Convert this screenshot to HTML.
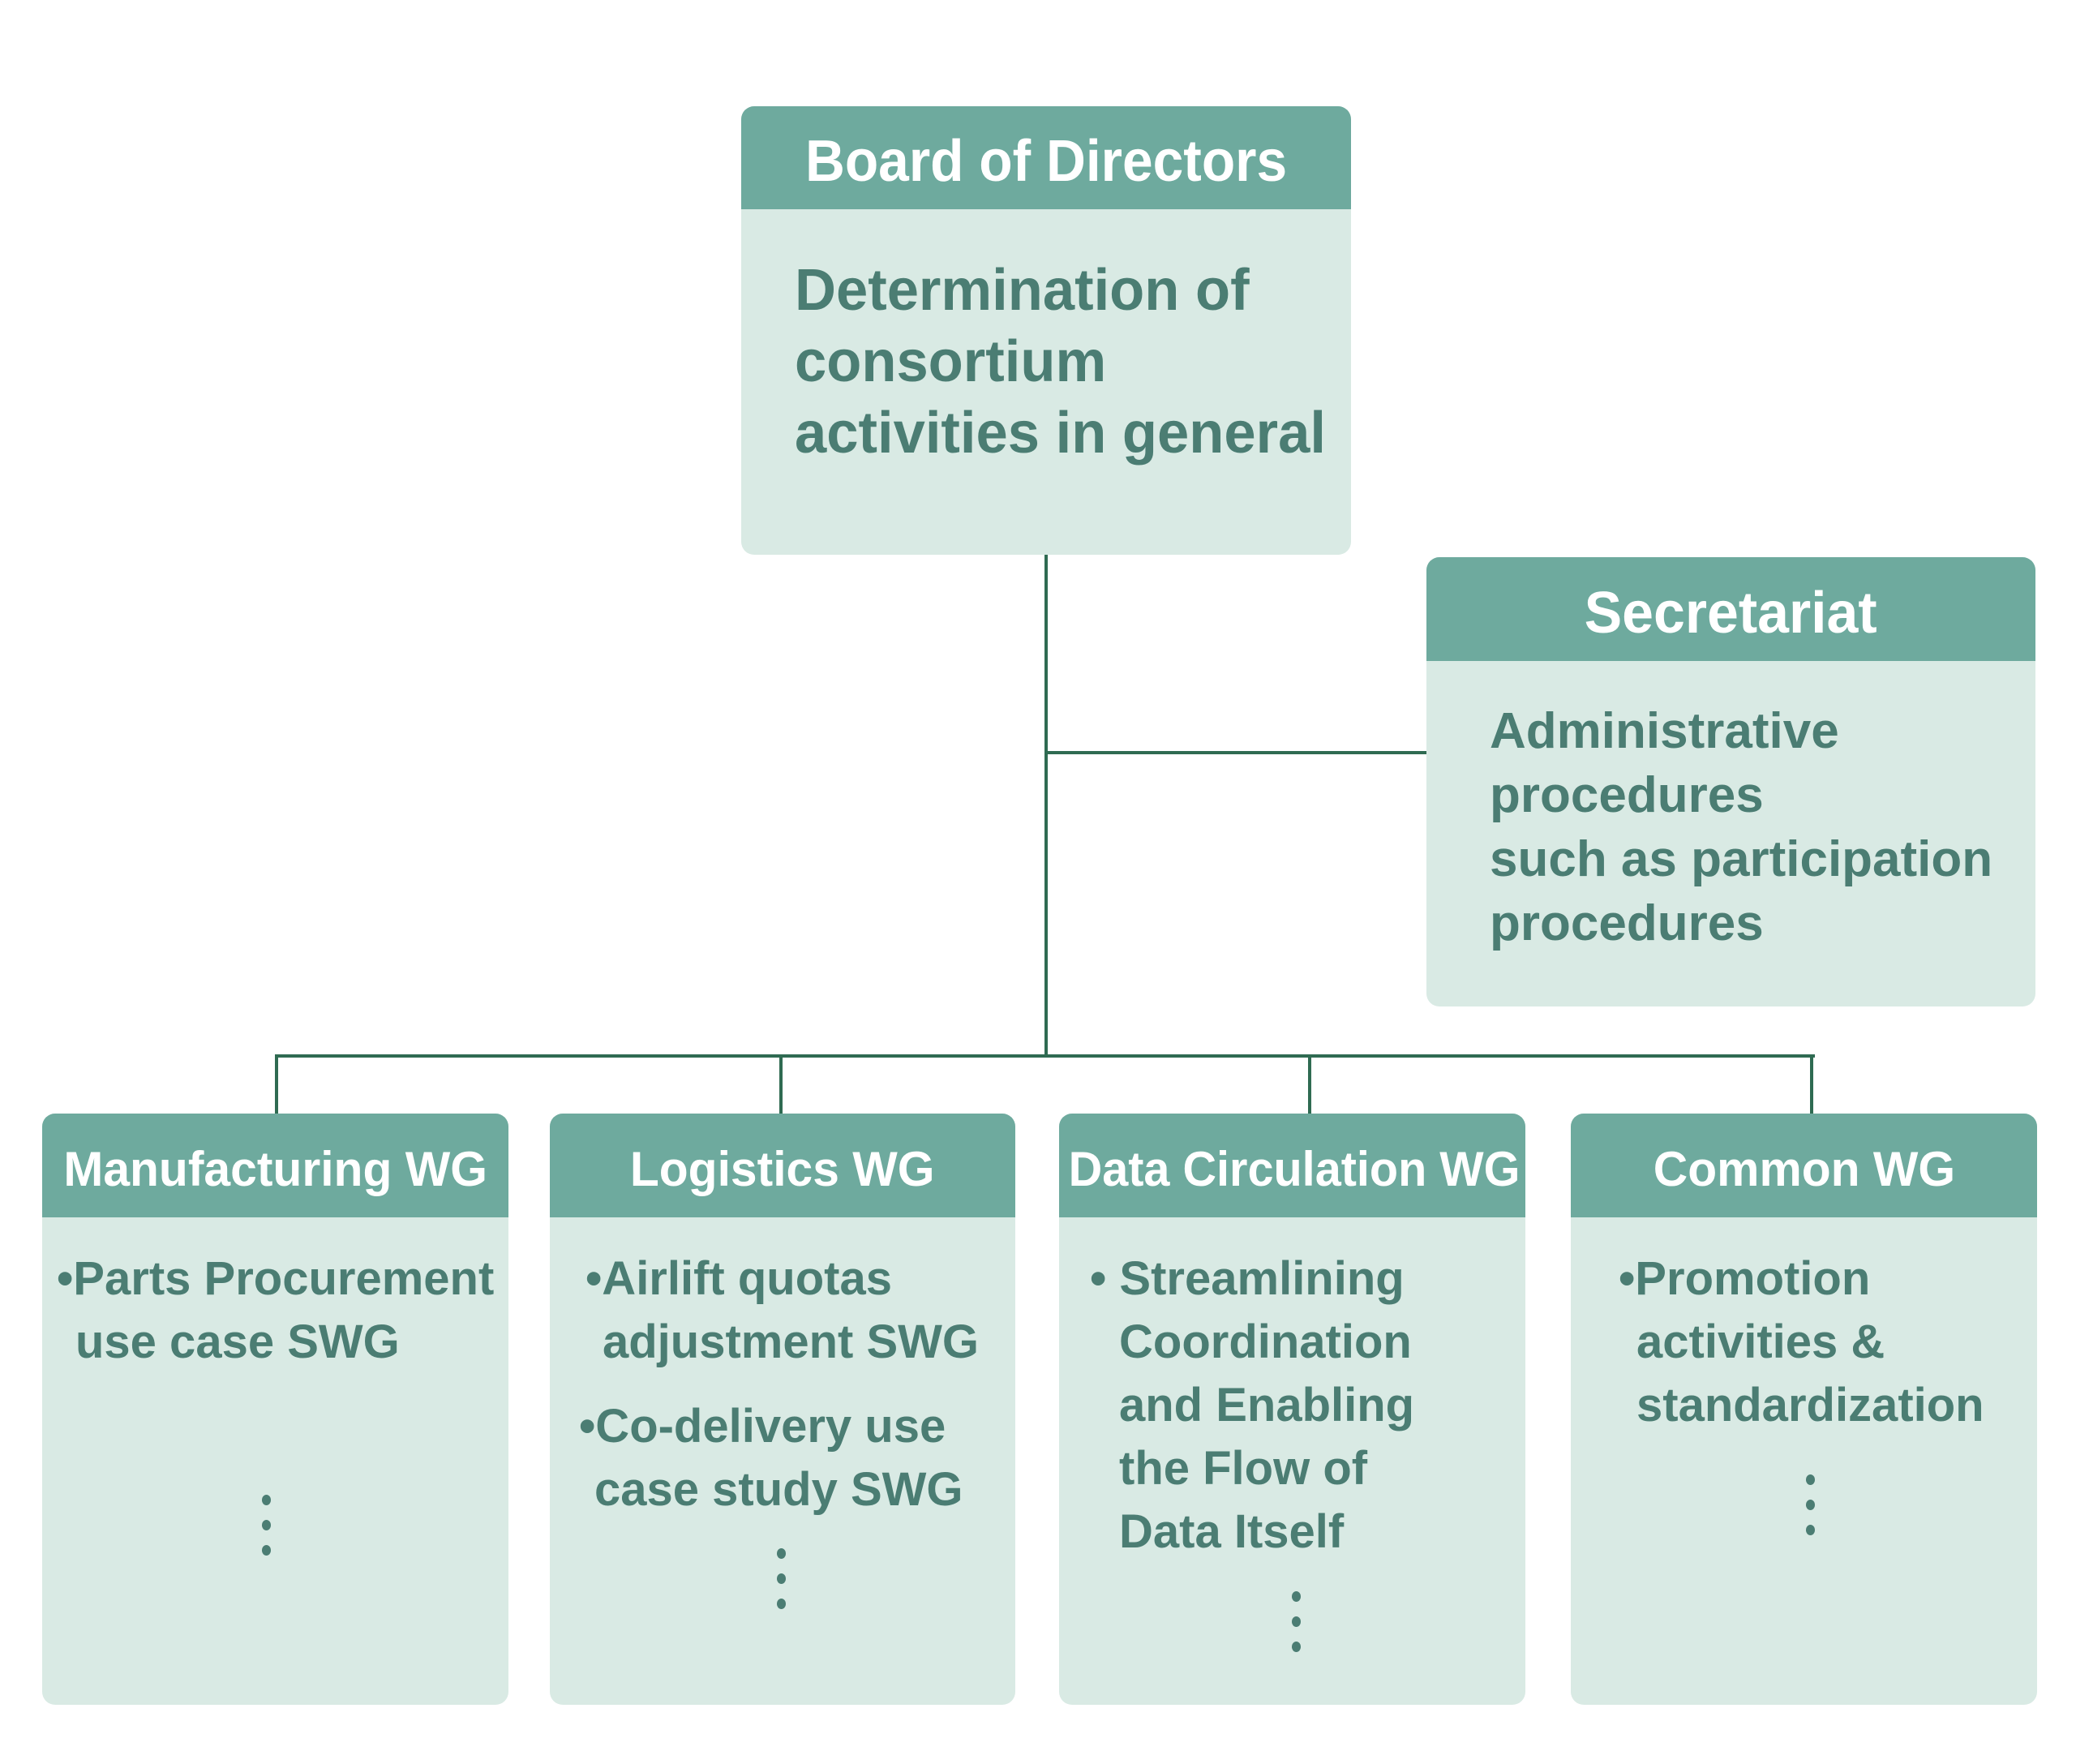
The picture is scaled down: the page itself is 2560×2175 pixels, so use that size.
<!DOCTYPE html>
<html><head><meta charset="utf-8"><style>
*{margin:0;padding:0;box-sizing:border-box}
body{width:2560px;height:2175px;background:#fff;position:relative;overflow:hidden;font-family:"Liberation Sans",sans-serif;font-weight:bold;color:#4b7d73}
.box{position:absolute;background:#d9eae4;border-radius:16px;overflow:hidden}
.hd{position:absolute;left:0;right:0;top:0;background:#6eaa9e;color:#fff;text-align:center;white-space:nowrap}
.hd span{display:inline-block;position:relative;top:5px}
.t{position:absolute;white-space:nowrap;transform-origin:0 0}
.ln{position:absolute;background:#2f6b52}
.dots{position:absolute;width:12px}
.dots i{display:block;width:11px;height:13px;border-radius:50%;background:#4b7d73;margin-bottom:18px}
.w{font-size:58px;line-height:78px;transform:scaleX(1.0)}
</style></head><body>
<div class="ln" style="left:1288px;top:684px;width:4px;height:620px"></div>
<div class="ln" style="left:1290px;top:926px;width:470px;height:4px"></div>
<div class="ln" style="left:339px;top:1300px;width:1899px;height:4px"></div>
<div class="ln" style="left:339px;top:1300px;width:4px;height:74px"></div>
<div class="ln" style="left:961px;top:1300px;width:4px;height:74px"></div>
<div class="ln" style="left:1613px;top:1300px;width:4px;height:74px"></div>
<div class="ln" style="left:2232px;top:1300px;width:4px;height:74px"></div>

<div class="box" style="left:914px;top:131px;width:752px;height:553px">
 <div class="hd" style="height:127px;font-size:72px;line-height:127px"><span style="transform:scaleX(0.94)">Board of Directors</span></div>
 <div class="t" style="left:66px;top:183px;font-size:72px;line-height:88px;transform:scaleX(0.98)">Determination of<br>consortium<br>activities in general</div>
</div>

<div class="box" style="left:1759px;top:687px;width:751px;height:554px">
 <div class="hd" style="height:128px;font-size:72px;line-height:128px"><span style="transform:scaleX(0.97)">Secretariat</span></div>
 <div class="t" style="left:78px;top:175px;font-size:62px;line-height:79px;transform:scaleX(1.0)">Administrative<br>procedures<br>such as participation<br>procedures</div>
</div>

<div class="box" style="left:52px;top:1373px;width:575px;height:729px">
 <div class="hd" style="height:128px;font-size:60px;line-height:128px"><span style="transform:scaleX(0.98)">Manufacturing WG</span></div>
 <div class="t w" style="left:18px;top:165px">•Parts Procurement</div>
 <div class="t w" style="left:41px;top:243px">use case SWG</div>
 <div class="dots" style="left:271px;top:470px"><i></i><i></i><i></i></div>
</div>

<div class="box" style="left:678px;top:1373px;width:574px;height:729px">
 <div class="hd" style="height:128px;font-size:60px;line-height:128px"><span style="transform:scaleX(0.98)">Logistics WG</span></div>
 <div class="t w" style="left:44px;top:165px">•Airlift quotas</div>
 <div class="t w" style="left:65px;top:243px">adjustment SWG</div>
 <div class="t w" style="left:36px;top:347px">•Co-delivery use</div>
 <div class="t w" style="left:55px;top:425px">case study SWG</div>
 <div class="dots" style="left:280px;top:536px"><i></i><i></i><i></i></div>
</div>

<div class="box" style="left:1306px;top:1373px;width:575px;height:729px">
 <div class="hd" style="height:128px;font-size:60px;line-height:128px"><span style="transform:scaleX(0.96)">Data Circulation WG</span></div>
 <div class="t w" style="left:38px;top:165px">• Streamlining</div>
 <div class="t w" style="left:74px;top:243px">Coordination</div>
 <div class="t w" style="left:74px;top:321px">and Enabling</div>
 <div class="t w" style="left:74px;top:399px">the Flow of</div>
 <div class="t w" style="left:74px;top:477px">Data Itself</div>
 <div class="dots" style="left:287px;top:589px"><i></i><i></i><i></i></div>
</div>

<div class="box" style="left:1937px;top:1373px;width:575px;height:729px">
 <div class="hd" style="height:128px;font-size:60px;line-height:128px"><span style="transform:scaleX(0.98)">Common WG</span></div>
 <div class="t w" style="left:59px;top:165px">•Promotion</div>
 <div class="t w" style="left:81px;top:243px">activities &amp;</div>
 <div class="t w" style="left:81px;top:321px">standardization</div>
 <div class="dots" style="left:290px;top:445px"><i></i><i></i><i></i></div>
</div>
</body></html>
